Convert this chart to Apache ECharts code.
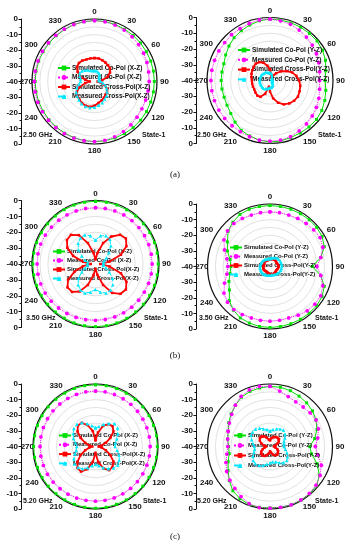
<!DOCTYPE html>
<html><head><meta charset="utf-8">
<script src="https://cdn.jsdelivr.net/npm/echarts@6/dist/echarts.min.js"></script>
<style>html,body{margin:0;padding:0;background:#fff}#c{width:351px;height:550px}</style>
</head><body><div id="c"></div>
<script>
// angles (degrees)
const angles = [0,10,20,30,40,50,60,70,80,90,100,110,120,130,140,150,160,170,180,190,200,210,220,230,240,250,260,270,280,290,300,310,320,330,340,350];
const radialTicks = [0,-10,-20,-30,-40,-30,-20,-10,0];

// (a) 2.50 GHz  X-Z
const a_xz_simCo  = [-1,-1,-1.2,-1.4,-1.5,-1.6,-1.7,-1.7,-1.7,-1.7,-1.7,-1.7,-1.6,-1.5,-1.5,-1.5,-1.5,-1.5,-1.5,-1.6,-1.7,-1.8,-1.9,-2,-2,-2,-2,-2,-2,-2,-2,-1.9,-1.8,-1.6,-1.3,-1.1];
const a_xz_measCo = [-1,-1.2,-1.6,-2,-2.6,-3.2,-3.7,-4.3,-4.8,-5,-5.2,-5.2,-5,-4.5,-3.8,-3,-2.3,-1.8,-1.5,-1.5,-1.5,-1.5,-1.5,-1.5,-1.5,-1.4,-1.4,-1.5,-1.5,-1.5,-1.5,-1.5,-1.4,-1.3,-1.2,-1.1];
const a_xz_simX   = [-25,-25,-25.5,-26,-26.5,-27,-28.5,-31,-35,-38,-36,-33,-30.5,-29.5,-29,-28,-27,-26,-24.5,-23.5,-23.5,-24,-25,-25.5,-27,-30,-34,-37,-34,-30,-27.5,-25.5,-24.5,-24.5,-25,-25];
const a_xz_measX  = [-33,-33,-33.5,-34,-35,-36,-36.5,-37,-37,-36,-34.5,-32.5,-31,-29.5,-28,-27,-25.5,-24.5,-23.5,-23,-23,-23.5,-24.5,-25.5,-26.5,-28,-30,-31,-31,-30,-29,-29.5,-30.5,-31.5,-32.5,-33];
// (a) 2.50 GHz  Y-Z
const a_yz_simCo  = [-1,-1,-1,-1,-1,-1,-1.5,-2.5,-4,-5,-4,-3,-2,-1.5,-1.5,-1.5,-1.5,-1,-1,-1.5,-2.5,-3.5,-5.5,-7.5,-8.5,-9,-9,-9,-9,-8.8,-7.5,-6,-4.5,-3.5,-2.5,-1.5];
const a_yz_measCo = [-1,-1.5,-2,-3,-4,-5,-6,-7,-8,-8.5,-8,-7,-6,-5,-4,-3,-2,-1.5,-1.5,-1.5,-2,-2.5,-2.5,-2.5,-2.5,-2.5,-2.5,-2.5,-2.5,-2.5,-2.5,-2.5,-2,-2,-1.5,-1];
const a_yz_simX   = [-33,-36,-38,-37,-34,-31,-28,-25,-23,-21.5,-20.5,-20,-19.5,-20,-21,-22.5,-25,-28.5,-33,-36,-31,-28,-27.5,-28,-28.5,-28.5,-28.5,-28.5,-28,-27.5,-27,-26.5,-26,-26.5,-28,-30.5];
const a_yz_measX  = [-35,-35.5,-36.5,-37.5,-38,-38.5,-38.5,-38.5,-38.5,-38.5,-38.5,-38.5,-38.5,-38,-37.5,-36.5,-36,-35.5,-35.5,-35,-34.5,-34,-33.5,-33.5,-33.5,-33.5,-33.5,-33.5,-33.5,-33.5,-33.5,-33.5,-34,-34,-34.5,-35];

// (b) 3.50 GHz  X-Z
const b_xz_simCo  = [-0.5,-0.5,-0.5,-0.6,-0.6,-0.6,-0.5,-0.5,-0.5,-0.5,-0.5,-0.5,-0.6,-0.6,-0.6,-0.5,-0.5,-0.5,-0.5,-0.5,-0.5,-0.6,-0.6,-0.6,-0.5,-0.5,-0.5,-0.5,-0.5,-0.5,-0.6,-0.6,-0.6,-0.5,-0.5,-0.5];
const b_xz_measCo = [-4.5,-4.5,-4.4,-4.3,-4.3,-4.3,-4.3,-4.3,-4.3,-4.3,-4.3,-4.4,-4.5,-4.5,-4.5,-4.5,-4.5,-4.5,-4.5,-4.4,-4.2,-4,-3.8,-3.6,-3.4,-3.3,-3.2,-3.2,-3.2,-3.3,-3.5,-3.8,-4,-4.2,-4.4,-4.5];
const b_xz_simX   = [-37,-33,-26,-20,-16,-15,-17.5,-23,-31,-37,-31,-23,-17.5,-15,-15.5,-19,-26,-33,-37,-33,-26,-20,-17,-17,-20,-26,-32,-37,-32,-25,-19.5,-16.5,-16,-19,-26,-33];
const b_xz_measX  = [-25,-22,-21,-22,-25,-29,-32,-34,-35,-35,-35,-33,-30,-26,-23,-21,-20.5,-22,-24,-22,-20.5,-21,-23,-26,-30,-33,-35,-35,-35,-33,-30,-26,-23,-21,-20.5,-22];
// (b) 3.50 GHz  Y-Z
const b_yz_simCo  = [-1,-1,-1,-1,-1,-1,-1.5,-3,-7,-13,-7,-3,-1.5,-1,-1,-1,-1,-1,-1,-1,-1.5,-2,-3.5,-6,-10,-12,-14,-15,-14,-11,-8.5,-5,-3,-1.5,-1,-1];
const b_yz_measCo = [-5,-5,-5,-4.5,-4,-3.5,-3,-4,-7,-10,-7,-4,-2.5,-2.5,-3,-4,-5,-5,-5,-5,-5,-4.5,-4,-4.5,-6,-9,-12,-13,-12,-9,-6,-4.5,-4,-4.5,-5,-5];
const b_yz_simX   = [-35.5,-35.2,-35,-34.8,-34.8,-35,-35.2,-35,-34.7,-34.5,-34.7,-35,-35.3,-35.2,-35,-34.8,-34.8,-35,-35.2,-35.5,-35.8,-36,-36,-35.8,-35.6,-35.5,-35.6,-35.8,-36,-36,-35.8,-35.6,-35.5,-35.6,-35.8,-35.6];
const b_yz_measX  = [-34.9,-34.5,-34,-33.5,-33,-32.7,-32.5,-32.5,-32.5,-32.5,-32.6,-32.8,-33,-33.4,-33.8,-34.1,-34.3,-34.4,-34.4,-34.3,-34.1,-33.9,-33.7,-33.6,-33.6,-33.6,-33.6,-33.6,-33.7,-33.8,-34,-34.2,-34.4,-34.6,-34.8,-34.9];

// (c) 5.20 GHz  X-Z
const c_xz_simCo  = [-0.5,-0.5,-0.6,-0.6,-0.6,-0.5,-0.5,-0.5,-0.4,-0.4,-0.4,-0.5,-0.5,-0.5,-0.6,-0.6,-0.6,-0.5,-0.5,-0.5,-0.6,-0.6,-0.6,-0.5,-0.5,-0.5,-0.4,-0.4,-0.4,-0.5,-0.5,-0.5,-0.6,-0.6,-0.5,-0.5];
const c_xz_measCo = [-4.5,-4.5,-4.6,-4.7,-4.8,-4.9,-5,-5,-5,-5,-5,-5,-5,-5,-5,-5,-5,-5,-5,-5,-4.9,-4.8,-4.7,-4.6,-4.5,-4.5,-4.5,-4.5,-4.5,-4.5,-4.5,-4.5,-4.5,-4.5,-4.5,-4.5];
const c_xz_simX   = [-36,-31,-26,-23.5,-23,-25,-29,-33,-36,-38,-36,-33,-29,-25,-23,-22.5,-25,-30,-36,-30,-24.5,-21.5,-22,-25,-29,-33,-36,-38,-36,-33,-29,-25,-22.5,-22.5,-25.5,-30];
const c_xz_measX  = [-28,-27,-25,-23,-21,-21.5,-23.5,-25.5,-27,-27.5,-26,-24,-22.5,-21.5,-22,-23.5,-25.5,-27.5,-28.5,-27.5,-25.5,-23.5,-22.5,-22.5,-24,-26,-27.5,-28,-27,-25,-23.5,-22,-21.5,-22.5,-24.5,-26.5];
// (c) 5.20 GHz  Y-Z
const c_yz_simCo  = [-1.5,-1.5,-2,-2.8,-3.5,-4.5,-6,-8,-11,-14.5,-13,-8,-3.5,-1,-0.5,-0.3,-0.3,-0.5,-0.7,-0.5,-0.5,-1.5,-3,-6,-9,-11.5,-13.5,-13.5,-12.5,-11.5,-9.5,-7.5,-5.5,-3.5,-2.5,-2];
const c_yz_measCo = [-1.5,-4,-6,-7,-7,-6.5,-6,-7,-9,-11,-9,-5,-3,-1.5,-0.8,-0.5,-0.3,-0.5,-0.5,-0.3,-1,-3,-5,-6.5,-8,-10,-12,-13,-12.5,-11.5,-10,-8,-5.5,-3,-1.5,-1];
const c_yz_simX   = [-36,-34.5,-33.5,-33,-32.5,-32.5,-33.5,-35,-36.5,-37.5,-36.5,-35,-34,-33.5,-33,-33.5,-34.5,-36,-37,-35.5,-34,-33,-32.5,-32.5,-33.5,-35,-36.5,-37.5,-36,-34,-32.5,-31.5,-31.5,-32.5,-34,-35.5];
const c_yz_measX  = [-30,-29,-28,-27,-26.5,-27.5,-29,-30.5,-31,-31,-30,-28.5,-27,-26,-26.5,-28,-29.5,-30,-29.5,-28.5,-27,-26,-25.5,-26,-27.5,-29,-30,-30,-29,-27.5,-26,-25.5,-25.5,-26.5,-28,-29];

const namesXZ = ['Simulated Co-Pol (X-Z)','Measured Co-Pol (X-Z)','Simulated Cross-Pol(X-Z)','Measured Cross-Pol(X-Z)'];
const namesYZ = ['Simulated Co-Pol (Y-Z)','Measured Co-Pol (Y-Z)','Simulated Cross-Pol(Y-Z)','Measured Cross-Pol(Y-Z)'];

const panels = [
  {cx:94.5, cy:81.5, r:62.5, ax:21,  names:namesXZ, d:[a_xz_simCo,a_xz_measCo,a_xz_simX,a_xz_measX], lg:[57,64.5,2.5,6.5], freq:'2.50 GHz', fx:23,  sx:142, ty:135},
  {cx:270,  cy:80.5, r:63,   ax:196, names:namesYZ, d:[a_yz_simCo,a_yz_measCo,a_yz_simX,a_yz_measX], lg:[237,46.5,2.8,6.5], freq:'2.50 GHz', fx:197, sx:318, ty:135},
  {cx:95.5, cy:264,  r:63.5, ax:21,  names:namesXZ, d:[b_xz_simCo,b_xz_measCo,b_xz_simX,b_xz_measX], lg:[52,248.5,3,6], freq:'3.50 GHz', fx:26,  sx:144, ty:318},
  {cx:270,  cy:266.5,r:62.5, ax:196, names:namesYZ, d:[b_yz_simCo,b_yz_measCo,b_yz_simX,b_yz_measX], lg:[229,244.5,3,6], freq:'3.50 GHz', fx:199, sx:315, ty:318},
  {cx:95.5, cy:446.5,r:62.5, ax:21,  names:namesXZ, d:[c_xz_simCo,c_xz_measCo,c_xz_simX,c_xz_measX], lg:[58,432.5,3.3,6], freq:'5.20 GHz', fx:23,  sx:143, ty:501},
  {cx:270,  cy:446.5,r:62.5, ax:196, names:namesYZ, d:[c_yz_simCo,c_yz_measCo,c_yz_simX,c_yz_measX], lg:[233,432.5,4,6], freq:'5.20 GHz', fx:197, sx:315, ty:501}
];

const styles = [
  {color:'#00e000', symbol:'rect', size:3, line:{width:1, type:'solid'}},
  {color:'#ff00ff', symbol:'circle', size:3.8, line:{width:1, type:'dotted'}},
  {color:'#ff0000', symbol:'rect', size:2.5, line:{width:1.8, type:'solid'}},
  {color:'#00e8ff', symbol:'triangle', size:3.5, line:{width:1, type:'dashed'}}
];

function loop(vals){
  const out = angles.map((a,i)=>[vals[i], a]);
  out.push([vals[0], 360]);
  return out;
}

const FONT = 'Liberation Sans';
const series = [];
panels.forEach((p,pi)=>{
  p.d.forEach((vals,k)=>{
    const s = styles[k];
    series.push({
      name:p.names[k], type:'line', coordinateSystem:'polar', polarIndex:pi,
      data:loop(vals), symbol:s.symbol, symbolSize:s.size, showSymbol:true,
      itemStyle:{color:s.color}, lineStyle:{color:s.color, width:s.line.width, type:s.line.type},
      silent:true, z:2+k
    });
  });
});

const graphic = [];
panels.forEach(p=>{
  graphic.push({type:'text', x:p.fx, y:p.ty, style:{text:p.freq, font:'bold 7px "'+FONT+'"', fill:'#111', textVerticalAlign:'middle'}});
  graphic.push({type:'text', x:p.sx, y:p.ty, style:{text:'State-1', font:'bold 7px "'+FONT+'"', fill:'#111', textVerticalAlign:'middle'}});
});
[['(a)',175],['(b)',356],['(c)',537]].forEach(t=>{
  graphic.push({type:'text', x:175, y:t[1], style:{text:t[0], font:'9px "Liberation Serif"', fill:'#111', textAlign:'center', textVerticalAlign:'middle'}});
});

const option = {
  animation:false,
  backgroundColor:'#fff',
  polar: panels.map(p=>({center:[p.cx,p.cy], radius:[0,p.r]})),
  angleAxis: panels.map((p,i)=>({
    polarIndex:i, type:'value', min:0, max:360, interval:30, startAngle:90, clockwise:true,
    axisLine:{lineStyle:{color:'#111', width:1.2}}, axisTick:{show:false},
    axisLabel:{margin:3, fontSize:8, fontWeight:'bold', color:'#111', fontFamily:FONT,
      formatter:v=> v>=360?'':(v===270?'{s|270}':String(v)),
      rich:{s:{fontSize:8, fontWeight:'bold', color:'#111', fontFamily:FONT, padding:[0,-4,0,0]}}},
    splitLine:{show:false}
  })),
  radiusAxis: panels.map((p,i)=>({
    polarIndex:i, type:'value', min:-40, max:0, interval:5,
    axisLine:{show:false}, axisTick:{show:false}, axisLabel:{show:false},
    splitLine:{show:true, lineStyle:{color:'#cccccc', width:0.6}}
  })),
  grid: panels.map(p=>({left:p.ax, top:p.cy-p.r, width:1, height:2*p.r})),
  xAxis: panels.map((p,i)=>({gridIndex:i, type:'value', show:false, min:0, max:1})),
  yAxis: panels.map((p,i)=>({
    gridIndex:i, type:'value', min:-40, max:40, interval:10, position:'left',
    axisLine:{show:true, lineStyle:{color:'#111', width:1}},
    axisTick:{show:true, length:2.5, lineStyle:{color:'#111'}},
    minorTick:{show:true, splitNumber:2, length:1.5, lineStyle:{color:'#111'}},
    splitLine:{show:false},
    axisLabel:{margin:3, fontSize:8, fontWeight:'bold', color:'#111', fontFamily:FONT,
      formatter:v=>{ const idx = Math.round((40 - v)/10); return String(radialTicks[idx]); }}
  })),
  legend: panels.map(p=>({
    data:p.names, orient:'vertical', left:p.lg[0], top:p.lg[1], padding:0,
    itemWidth:12, itemHeight:6, itemGap:p.lg[2], selectedMode:false,
    textStyle:{fontSize:p.lg[3], fontWeight:'bold', color:'#111', fontFamily:FONT, padding:[0,0,0,-3]}
  })),
  graphic: graphic,
  series: series
};

const chart = echarts.init(document.getElementById('c'), null, {renderer:'canvas'});
chart.setOption(option);
</script>
</body></html>
